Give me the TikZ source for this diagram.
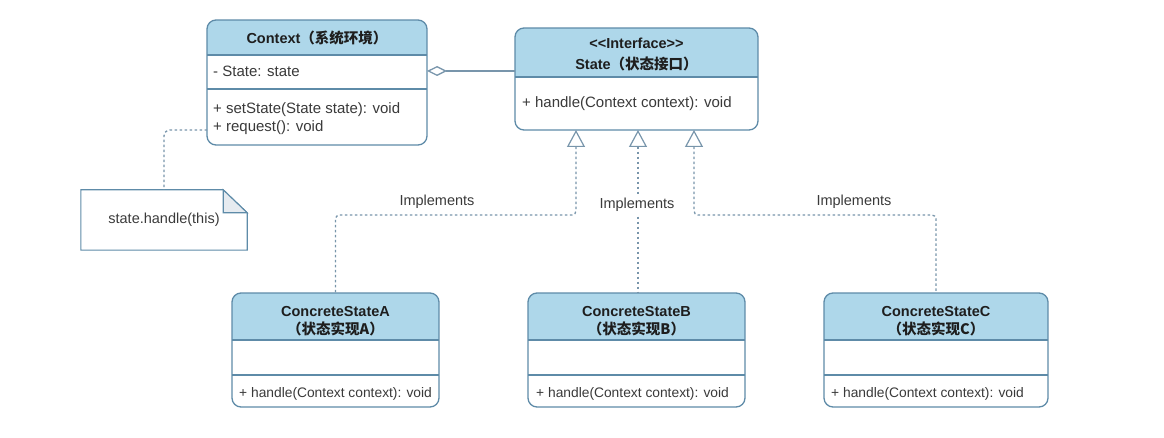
\documentclass[tikz,border=0pt]{standalone}
\usepackage{fontspec}
\setmainfont{Liberation Sans}
\newfontfamily\cjk{Noto Sans CJK SC}
\usetikzlibrary{arrows.meta,calc}

\definecolor{bordure}{HTML}{5E8BA8}
\definecolor{entete}{HTML}{AED7EA}
\definecolor{pointille}{HTML}{7895AB}
\definecolor{texte}{HTML}{3A3A3A}
\definecolor{titrecol}{HTML}{1E1E1E}
\definecolor{pli}{HTML}{E6EBF0}

\newcommand{\zh}[1]{{\cjk #1}}

\tikzset{
  classbox/.style={draw=bordure, line width=1.3pt, rounded corners=9pt, fill=white,
    inner sep=0pt, outer sep=0pt,
    path picture={
      \fill[entete, sharp corners] (path picture bounding box.north west) rectangle ([yshift=-#1]path picture bounding box.north east);
      \draw[bordure, line width=1.3pt, sharp corners] ([yshift=-#1]path picture bounding box.north west) -- ([yshift=-#1]path picture bounding box.north east);
    }},
  separateur/.style={draw=bordure, line width=1.3pt},
  titre/.style={font=\fontsize{14.5}{19}\selectfont\bfseries, text=titrecol, align=center, inner sep=0pt},
  membre/.style={font=\fontsize{15}{18}\selectfont, text=texte, anchor=west, inner sep=0pt},
  membrepetit/.style={font=\fontsize{13.8}{17}\selectfont, text=texte, anchor=west, inner sep=0pt},
  etiquette/.style={font=\fontsize{14.5}{17}\selectfont, text=texte, inner sep=2pt},
  impl/.style={draw=pointille, line width=1.3pt, dash pattern=on 2.5pt off 2.5pt, rounded corners=4pt,
    arrows={Triangle[open, width=18pt, length=17pt, line width=1.2pt]-}},
  agg/.style={draw=pointille, line width=1.3pt,
    arrows={Diamond[open, width=10pt, length=20pt, line width=1.3pt]-}},
  renvoi/.style={draw=pointille, line width=1.3pt, dash pattern=on 2.5pt off 2.5pt, rounded corners=6pt},
  notebord/.style={draw=bordure, line width=1.1pt},
}

\begin{document}
\begin{tikzpicture}[x=1pt, y=-1pt]
  \useasboundingbox (0,0) rectangle (1164,438);

  % Les classes
  \node[classbox=35pt, minimum width=220pt, minimum height=125pt] (ctx) at (317,82.5) {};
  \node[classbox=49pt, minimum width=243pt, minimum height=102pt] (state) at (636.5,79) {};
  \node[classbox=47pt, minimum width=207pt, minimum height=114pt] (ca) at (335.5,350) {};
  \node[classbox=47pt, minimum width=217pt, minimum height=114pt] (cb) at (636.5,350) {};
  \node[classbox=47pt, minimum width=224pt, minimum height=114pt] (cc) at (936,350) {};

  % Séparateurs des attributs
  \draw[separateur] ([yshift=-69pt]ctx.north west) -- ([yshift=-69pt]ctx.north east);
  \foreach \c in {ca,cb,cc}
    \draw[separateur] ([yshift=-82pt]\c.north west) -- ([yshift=-82pt]\c.north east);

  % Les textes
  \node[titre] (ctxtitre) at (317,38) {Context\zh{（系统环境）}};
  \node[membre] (ctxattr) at (213,71) {- State: state};
  \node[membre] (ctxset) at (213,110) {+ setState(State state): void};
  \node[membre] (ctxreq) at (213,128) {+ request(): void};

  \node[titre, font=\fontsize{14.5}{21}\selectfont\bfseries] (statetitre) at (636.5,54.5) {<\kern0pt<Interface>\kern0pt>\\State\zh{（状态接口）}};
  \node[membre] (statehandle) at (522,104) {+ handle(Context context): void};

  \node[titre, font=\fontsize{14.5}{18}\selectfont\bfseries] (catitre) at (335.5,321) {ConcreteStateA\\\zh{（状态实现A）}};
  \node[titre, font=\fontsize{14.5}{18}\selectfont\bfseries] (cbtitre) at (636.5,321) {ConcreteStateB\\\zh{（状态实现B）}};
  \node[titre, font=\fontsize{14.5}{18}\selectfont\bfseries] (cctitre) at (936,321) {ConcreteStateC\\\zh{（状态实现C）}};
  \node[membrepetit] (cahandle) at (239,394) {+ handle(Context context): void};
  \node[membrepetit] (cbhandle) at (536,394) {+ handle(Context context): void};
  \node[membrepetit] (cchandle) at (831,394) {+ handle(Context context): void};

  % La note
  \node[minimum width=166pt, minimum height=60pt, inner sep=0pt, font=\fontsize{14.5}{17}\selectfont, text=texte] (note) at (164,220) {state.handle(this)};
  \draw[notebord] (note.south west) -- (note.north west) -- ([xshift=-24pt]note.north east)
    -- ([yshift=-23pt]note.north east) -- (note.south east) -- cycle;
  \filldraw[notebord, fill=pli] ([xshift=-24pt]note.north east) -- ([xshift=-24pt,yshift=-23pt]note.north east)
    -- ([yshift=-23pt]note.north east) -- cycle;

  % Flèches
  \draw[agg] (ctx.east |- ctxattr) -- (state.west |- ctxattr);
  \draw[renvoi] ([yshift=-2pt]ctx.west |- ctxreq) -| (note.north);

  \coordinate (tA) at ([xshift=-60.5pt]state.south);
  \coordinate (tB) at ([xshift=1.5pt]state.south);
  \coordinate (tC) at ([xshift=57.5pt]state.south);
  \draw[impl] (tA) -- ++(0,85) -| (ca.north);
  \draw[impl] (tB) -- (tB |- cb.north);
  \draw[impl] (tC) -- ++(0,85) -| (cc.north);

  \node[etiquette] (implA) at (437,202) {Implements};
  \node[etiquette, fill=white] (implB) at (637,205) {Implements};
  \node[etiquette] (implC) at (854,202) {Implements};
\end{tikzpicture}
\end{document}
